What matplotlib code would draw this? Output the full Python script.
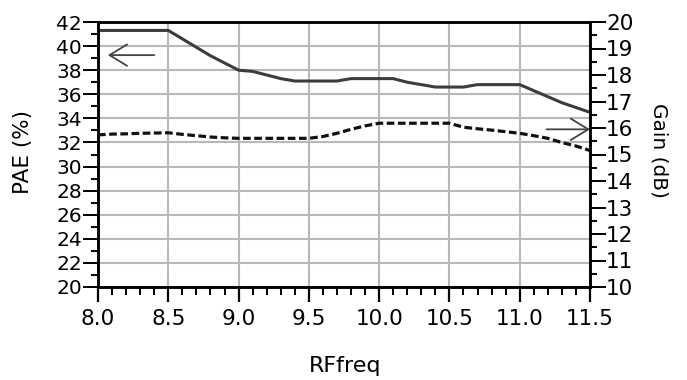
import matplotlib
matplotlib.use("Agg")
import matplotlib.pyplot as plt
from matplotlib.ticker import MultipleLocator, FormatStrFormatter

# Frequency sweep (GHz)
rf_freq = [8.0, 8.1, 8.2, 8.3, 8.4, 8.5, 8.6, 8.7, 8.8, 8.9,
           9.0, 9.1, 9.2, 9.3, 9.4, 9.5, 9.6, 9.7, 9.8, 9.9,
           10.0, 10.1, 10.2, 10.3, 10.4, 10.5, 10.6, 10.7, 10.8, 10.9,
           11.0, 11.1, 11.2, 11.3, 11.4, 11.5]

# Power-added efficiency (%), left axis
pae = [41.3, 41.3, 41.3, 41.3, 41.3, 41.3, 40.6, 39.9, 39.2, 38.6,
       38.0, 37.9, 37.6, 37.3, 37.1, 37.1, 37.1, 37.1, 37.3, 37.3,
       37.3, 37.3, 37.0, 36.8, 36.6, 36.6, 36.6, 36.8, 36.8, 36.8,
       36.8, 36.3, 35.8, 35.3, 34.9, 34.5]

# Gain (dB), right axis
gain = [15.74, 15.77, 15.78, 15.80, 15.81, 15.82, 15.76, 15.71, 15.66, 15.63,
        15.61, 15.61, 15.61, 15.61, 15.61, 15.61, 15.68, 15.80, 15.95, 16.08,
        16.18, 16.18, 16.18, 16.18, 16.18, 16.18, 16.03, 15.97, 15.92, 15.86,
        15.80, 15.71, 15.61, 15.45, 15.32, 15.15]

fig = plt.figure(figsize=(6.87, 3.80), dpi=100)
ax = fig.add_axes([98 / 687, 1 - 287 / 380, (590 - 98) / 687, (287 - 22) / 380])
ax2 = ax.twinx()

ax.set_xlim(8.0, 11.5)
ax.set_ylim(20, 42)
ax2.set_ylim(10, 20)

# grid
ax.set_axisbelow(True)
ax.grid(True, which="major", color="#b8b8b8", linewidth=1.5)

# ticks
ax.xaxis.set_major_locator(MultipleLocator(0.5))
ax.xaxis.set_minor_locator(MultipleLocator(0.1))
ax.xaxis.set_major_formatter(FormatStrFormatter("%.1f"))
ax.yaxis.set_major_locator(MultipleLocator(2))
ax.yaxis.set_minor_locator(MultipleLocator(1))
ax2.yaxis.set_major_locator(MultipleLocator(1))
ax2.yaxis.set_minor_locator(MultipleLocator(0.5))

ax.tick_params(axis="x", which="major", direction="out", length=10.5, width=1.6,
               labelsize=15.5, pad=5, color="black")
ax.tick_params(axis="x", which="minor", direction="out", length=5.5, width=1.4, color="black")
ax.tick_params(axis="y", which="major", direction="out", length=10.5, width=1.4,
               labelsize=14.5, pad=1, right=False)
ax.tick_params(axis="y", which="minor", direction="out", length=5, width=1.4, right=False)
ax2.tick_params(axis="y", which="major", direction="out", length=11.5, width=1.4,
                labelsize=15.5, pad=0)
ax2.tick_params(axis="y", which="minor", direction="out", length=5, width=1.4)

for a in (ax, ax2):
    for s in a.spines.values():
        s.set_linewidth(1.8)
        s.set_color("black")

# curves
ax.plot(rf_freq, pae, color="#3c3c3c", linewidth=2.2, zorder=3)
ax2.plot(rf_freq, gain, color="#111111", linewidth=2.3,
         linestyle=(0, (2.4, 1.1)), zorder=3)

# axis-pointer arrows
arrow_style = dict(arrowstyle="->,head_length=0.9,head_width=0.55",
                   color="#444444", linewidth=1.3, shrinkA=0, shrinkB=0,
                   mutation_scale=14)
ax.annotate("", xy=(8.07, 39.25), xytext=(8.40, 39.25), arrowprops=arrow_style)
ax2.annotate("", xy=(11.5, 15.95), xytext=(11.19, 15.95), arrowprops=arrow_style)

# axis titles
fig.text(23 / 687, 1 - 152 / 380, "PAE (%)", rotation=90, ha="center", va="center",
         fontsize=15.5)
fig.text(659 / 687, 1 - 150 / 380, "Gain (dB)", rotation=270, ha="center", va="center",
         fontsize=14.5)
fig.text(345 / 687, 1 - 372 / 380, "RFfreq", ha="center", va="baseline", fontsize=16)

fig.savefig("out.png", dpi=100)
